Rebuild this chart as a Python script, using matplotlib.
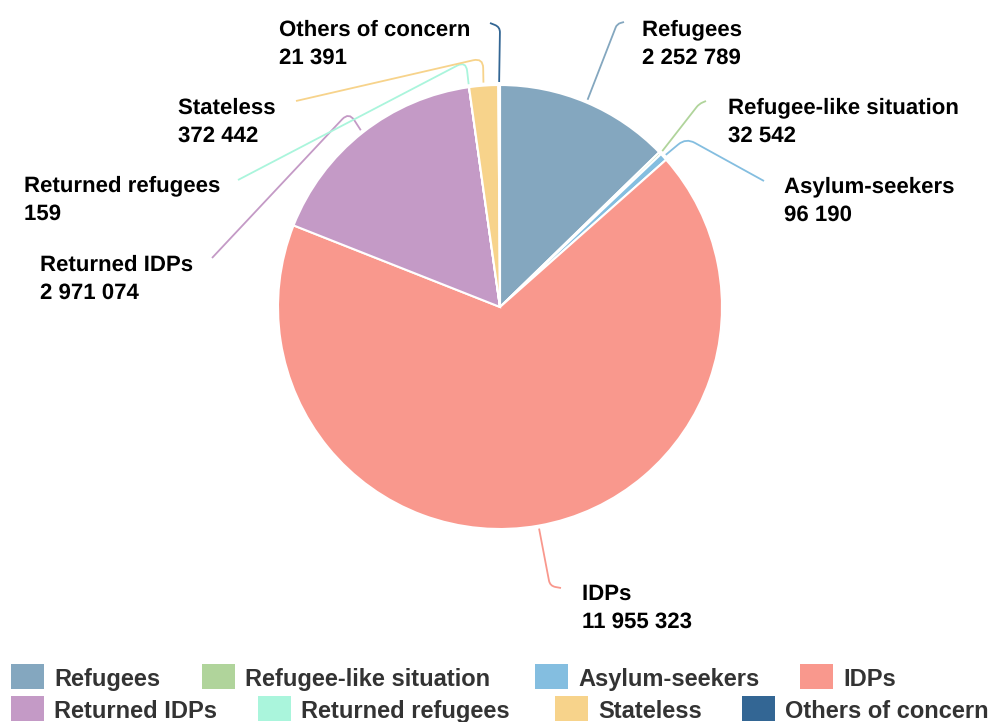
import numpy as np
import matplotlib
matplotlib.use("Agg")
import matplotlib.pyplot as plt
from matplotlib.path import Path
from matplotlib.patches import PathPatch, Rectangle
import matplotlib.patheffects as pe

# data
categories = ["Refugees", "Refugee-like situation", "Asylum-seekers", "IDPs",
              "Returned IDPs", "Returned refugees", "Stateless", "Others of concern"]
values = [2252789, 32542, 96190, 11955323, 2971074, 159, 372442, 21391]
colors = ["#84a7bf", "#b0d49b", "#84bee0", "#f9988d",
          "#c49ac6", "#aaf5dc", "#f7d38b", "#336694"]

# layout in pixels (y down)
cx, cy, r = 500, 307, 222
# label text position (x, first baseline), elbow and end of leader line
label_pos = [(642, 36), (728, 114), (784, 193), (582, 600),
             (40, 271), (24, 192), (178, 114), (279, 36)]
elbows = [(617, 24), (699, 104), (686, 138), (550, 586),
          (349, 112), (466, 61), (483, 58), (500, 27)]
ends = [(624, 22), (706, 101), (764, 181), (561, 588),
        (212, 258), (238, 180), (296, 101), (490, 23)]

legend_x = [11, 202, 535, 800, 11, 258, 555, 742]
legend_row = [0, 0, 0, 0, 1, 1, 1, 1]

plt.rcParams['font.family'] = ['Liberation Sans', 'DejaVu Sans']

fig = plt.figure(figsize=(9.95, 7.22), dpi=100)
ax = fig.add_axes([0, 0, 1, 1])

ax.pie(values, colors=colors, startangle=-90, counterclock=True,
       center=(cx, cy), radius=r,
       wedgeprops=dict(edgecolor="white", linewidth=1.5))
ax.set_xlim(0, 995)
ax.set_ylim(722, 0)
ax.set_aspect('auto')
ax.axis('off')

def fmt(v):
    return "{:,}".format(v).replace(",", " ")

total = sum(values)
cum = 0
for i, v in enumerate(values):
    ang = (cum + v / 2) / total * 2 * np.pi
    cum += v
    d = np.array([np.sin(ang), -np.cos(ang)])
    start = np.array([cx, cy]) + (r + 3) * d
    el = np.array(elbows[i], dtype=float)
    en = np.array(ends[i], dtype=float)
    l1 = np.linalg.norm(start - el)
    l2 = np.linalg.norm(en - el)
    rad = min(10, l1 / 2, l2 / 2)
    pa = el + (start - el) / l1 * rad
    pb = el + (en - el) / l2 * rad
    path = Path([start, pa, el, pb, en],
                [Path.MOVETO, Path.LINETO, Path.CURVE3, Path.CURVE3, Path.LINETO])
    ax.add_patch(PathPatch(path, fill=False, edgecolor=colors[i], linewidth=1.3))

    lx, ly = label_pos[i]
    for j, s in enumerate([categories[i], fmt(v)]):
        ax.text(lx, ly + j * 28, s, fontsize=16, fontweight='bold', color='black',
                ha='left', va='baseline',
                path_effects=[pe.withStroke(linewidth=3, foreground='white')])

# legend
for i, name in enumerate(categories):
    x = legend_x[i]
    y0 = 664 + legend_row[i] * 32
    ax.add_patch(Rectangle((x, y0), 33, 25, facecolor=colors[i], edgecolor='none'))
    ax.text(x + 43, y0 + 22, name, fontsize=17, fontweight='bold', color='#333333',
            ha='left', va='baseline')

fig.savefig("out.png", dpi=100)
